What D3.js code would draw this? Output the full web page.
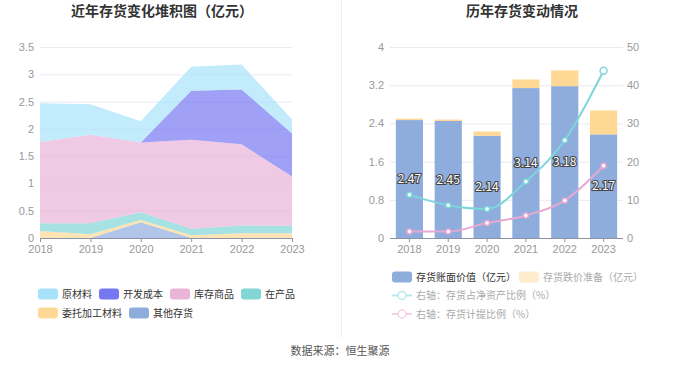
<!DOCTYPE html>
<html>
<head>
<meta charset="utf-8">
<script src="https://cdn.jsdelivr.net/npm/d3@7/dist/d3.min.js"></script>
<style>
  html, body { margin: 0; padding: 0; background: #fff; }
  svg { display: block; font-family: "Noto Sans CJK SC", "Noto Sans", sans-serif; }
</style>
</head>
<body>
<svg id="chart" width="680" height="367"></svg>
<script>
// years shared by both panels
const years = ['2018', '2019', '2020', '2021', '2022', '2023'];

// left panel: inventory composition (亿元), stacked bottom -> top
const otherStock = [0, 0, 0.29, 0, 0, 0];               // 其他存货
const consignedMaterial = [0.13, 0.07, 0.04, 0.05, 0.085, 0.085]; // 委托加工材料
const workInProgress = [0.14, 0.20, 0.14, 0.12, 0.145, 0.14];    // 在产品
const finishedGoods = [1.49, 1.62, 1.28, 1.63, 1.49, 0.90];      // 库存商品
const devCost = [0, 0, 0, 0.90, 1.00, 0.79];                     // 开发成本
const rawMaterial = [0.71, 0.56, 0.39, 0.44, 0.46, 0.255];       // 原材料
const leftTicks = [0, 0.5, 1, 1.5, 2, 2.5, 3, 3.5];

// right panel
const bookValue = [2.47, 2.45, 2.14, 3.14, 3.18, 2.17];          // 存货账面价值
const provision = [0.03, 0.03, 0.09, 0.18, 0.33, 0.50];          // 存货跌价准备
const netAssetRatio = [11.3, 8.6, 7.6, 14.8, 25.6, 43.8];        // 存货占净资产比例 %
const provisionRatio = [1.7, 1.7, 3.9, 5.9, 9.8, 18.9];          // 存货计提比例 %
const rightTicksL = [0, 0.8, 1.6, 2.4, 3.2, 4];
const rightTicksR = [0, 10, 20, 30, 40, 50];

const svg = d3.select('#chart');
const axisColor = '#8c93a6';
const gridColor = '#e7eaf3';
const labelColor = '#999';

// divider + titles + footer
svg.append('line')
    .attr('x1', 341.5).attr('x2', 341.5).attr('y1', 0).attr('y2', 338)
    .attr('stroke', '#f0f0f0');

svg.append('text').attr('x', 162).attr('y', 16).attr('text-anchor', 'middle')
    .attr('font-size', '14px').attr('font-weight', 'bold').attr('fill', '#333')
    .text('近年存货变化堆积图（亿元）');
svg.append('text').attr('x', 522).attr('y', 16).attr('text-anchor', 'middle')
    .attr('font-size', '14px').attr('font-weight', 'bold').attr('fill', '#333')
    .text('历年存货变动情况');
svg.append('text').attr('x', 340).attr('y', 355).attr('text-anchor', 'middle')
    .attr('font-size', '11px').attr('fill', '#555')
    .text('数据来源：恒生聚源');

// ---------- left: stacked area ----------
const seriesL = [
    { name: '其他存货', values: otherStock, color: '#8eaddd' },
    { name: '委托加工材料', values: consignedMaterial, color: '#fed894' },
    { name: '在产品', values: workInProgress, color: '#82d6d6' },
    { name: '库存商品', values: finishedGoods, color: '#e9b4d8' },
    { name: '开发成本', values: devCost, color: '#7678f2' },
    { name: '原材料', values: rawMaterial, color: '#a8e2fa' }
];

const xL = d3.scalePoint().domain(years).range([40, 292]);
const yL = d3.scaleLinear().domain([0, 3.5]).range([238, 47]);

const gL = svg.append('g');

gL.append('g')
    .call(d3.axisLeft(yL).tickValues(leftTicks).tickSize(-252).tickFormat(d3.format('~g')))
    .attr('transform', 'translate(40,0)')
    .call(g => g.select('.domain').remove())
    .call(g => g.selectAll('line').attr('stroke', gridColor))
    .call(g => g.selectAll('text').attr('x', -6).attr('fill', labelColor).attr('font-size', '11px')
        .attr('font-family', 'inherit'));

const rows = years.map((y, i) => {
    const r = { year: y };
    seriesL.forEach(s => { r[s.name] = s.values[i]; });
    return r;
});
const stacked = d3.stack().keys(seriesL.map(s => s.name))(rows);

const area = d3.area()
    .x(d => xL(d.data.year))
    .y0(d => yL(d[0]))
    .y1(d => yL(d[1]));

gL.selectAll('.layer')
    .data(stacked)
    .join('path')
    .attr('class', 'layer')
    .attr('d', area)
    .attr('fill', (d, i) => seriesL[i].color)
    .attr('fill-opacity', 0.7);

gL.append('g')
    .attr('transform', 'translate(0,238)')
    .call(d3.axisBottom(xL).tickSize(4).tickPadding(3))
    .call(g => g.select('.domain').attr('stroke', axisColor).attr('d', 'M40,0.5H292'))
    .call(g => g.selectAll('line').attr('stroke', axisColor))
    .call(g => g.selectAll('text').attr('fill', labelColor).attr('font-size', '11px')
        .attr('font-family', 'inherit'));

// left legend
const legendRowsL = [
    ['原材料', '开发成本', '库存商品', '在产品'],
    ['委托加工材料', '其他存货']
];
legendRowsL.forEach((row, ri) => {
    let x = 38;
    const cy = 294 + ri * 19;
    row.forEach(name => {
        const s = seriesL.find(d => d.name === name);
        svg.append('rect').attr('x', x).attr('y', cy - 5.5).attr('width', 20).attr('height', 11)
            .attr('rx', 3).attr('fill', s.color);
        const t = svg.append('text').attr('x', x + 24).attr('y', cy).attr('dy', '0.35em')
            .attr('font-size', '10px').attr('fill', '#333').text(name);
        x += 24 + t.node().getComputedTextLength() + 7;
    });
});

// ---------- right: bars + lines ----------
const xR = d3.scaleBand().domain(years).range([390, 623]).paddingInner(0.3).paddingOuter(0.15);
const yRL = d3.scaleLinear().domain([0, 4]).range([238, 47]);
const yRR = d3.scaleLinear().domain([0, 50]).range([238, 47]);

const gR = svg.append('g');

gR.append('g')
    .attr('transform', 'translate(390,0)')
    .call(d3.axisLeft(yRL).tickValues(rightTicksL).tickSize(-233).tickFormat(d3.format('~g')))
    .call(g => g.select('.domain').remove())
    .call(g => g.selectAll('line').attr('stroke', gridColor))
    .call(g => g.selectAll('text').attr('x', -6).attr('fill', labelColor).attr('font-size', '11px')
        .attr('font-family', 'inherit'));

gR.append('g')
    .attr('transform', 'translate(623,0)')
    .call(d3.axisRight(yRR).tickValues(rightTicksR).tickSize(0).tickPadding(4))
    .call(g => g.select('.domain').remove())
    .call(g => g.selectAll('text').attr('fill', labelColor).attr('font-size', '11px')
        .attr('font-family', 'inherit'));

gR.selectAll('.book')
    .data(bookValue)
    .join('rect')
    .attr('class', 'book')
    .attr('x', (d, i) => xR(years[i]))
    .attr('width', xR.bandwidth())
    .attr('y', d => yRL(d))
    .attr('height', d => yRL(0) - yRL(d))
    .attr('fill', '#8eaddd');

gR.selectAll('.prov')
    .data(provision)
    .join('rect')
    .attr('class', 'prov')
    .attr('x', (d, i) => xR(years[i]))
    .attr('width', xR.bandwidth())
    .attr('y', (d, i) => yRL(bookValue[i] + d))
    .attr('height', d => yRL(0) - yRL(d))
    .attr('fill', '#fed894');

gR.append('g')
    .attr('transform', 'translate(0,238)')
    .call(d3.axisBottom(xR).tickSize(4).tickPadding(3))
    .call(g => g.select('.domain').attr('stroke', axisColor).attr('d', 'M390,0.5H623'))
    .call(g => g.selectAll('line').attr('stroke', axisColor))
    .call(g => g.selectAll('text').attr('fill', labelColor).attr('font-size', '11px')
        .attr('font-family', 'inherit'));

const cx = i => xR(years[i]) + xR.bandwidth() / 2;
const lineR = d3.line().x((d, i) => cx(i)).y(d => yRR(d)).curve(d3.curveMonotoneX);

const lines = [
    { values: netAssetRatio, color: '#7dd6d9' },
    { values: provisionRatio, color: '#e8a8d2' }
];
lines.forEach(l => {
    gR.append('path').attr('d', lineR(l.values)).attr('fill', 'none')
        .attr('stroke', l.color).attr('stroke-width', 2);
    gR.selectAll(null)
        .data(l.values)
        .join('circle')
        .attr('cx', (d, i) => cx(i))
        .attr('cy', d => yRR(d))
        .attr('r', (d, i) => (l.values === netAssetRatio && i === 5) ? 3.5 : 2.5)
        .attr('fill', '#fff')
        .attr('stroke', l.color)
        .attr('stroke-width', 1.5);
});

gR.selectAll('.val')
    .data(bookValue)
    .join('text')
    .attr('class', 'val')
    .attr('x', (d, i) => cx(i))
    .attr('y', d => yRL(d / 2))
    .attr('dy', '0.35em')
    .attr('text-anchor', 'middle')
    .attr('font-size', '12px')
    .attr('fill', '#fff')
    .attr('stroke', '#444')
    .attr('stroke-width', 2.2)
    .attr('paint-order', 'stroke')
    .text(d => d3.format('.2f')(d));

// right legend
const legR = svg.append('g');
legR.append('rect').attr('x', 392).attr('y', 271.5).attr('width', 20).attr('height', 11)
    .attr('rx', 3).attr('fill', '#8eaddd');
legR.append('text').attr('x', 416).attr('y', 277).attr('dy', '0.35em')
    .attr('font-size', '10px').attr('fill', '#333').text('存货账面价值（亿元）');
legR.append('rect').attr('x', 519).attr('y', 271.5).attr('width', 20).attr('height', 11)
    .attr('rx', 3).attr('fill', '#feeccc');
legR.append('text').attr('x', 543).attr('y', 277).attr('dy', '0.35em')
    .attr('font-size', '10px').attr('fill', '#aaa').text('存货跌价准备（亿元）');

[['右轴：存货占净资产比例（%）', '#b8e9eb', 295.5], ['右轴：存货计提比例（%）', '#f4d2e7', 314]].forEach(([txt, c, y]) => {
    legR.append('line').attr('x1', 392).attr('x2', 412).attr('y1', y).attr('y2', y)
        .attr('stroke', c).attr('stroke-width', 2);
    legR.append('circle').attr('cx', 402).attr('cy', y).attr('r', 4)
        .attr('fill', '#fff').attr('stroke', c).attr('stroke-width', 1.5);
    legR.append('text').attr('x', 416).attr('y', y).attr('dy', '0.35em')
        .attr('font-size', '10px').attr('fill', '#aaa').text(txt);
});
</script>
</body>
</html>
